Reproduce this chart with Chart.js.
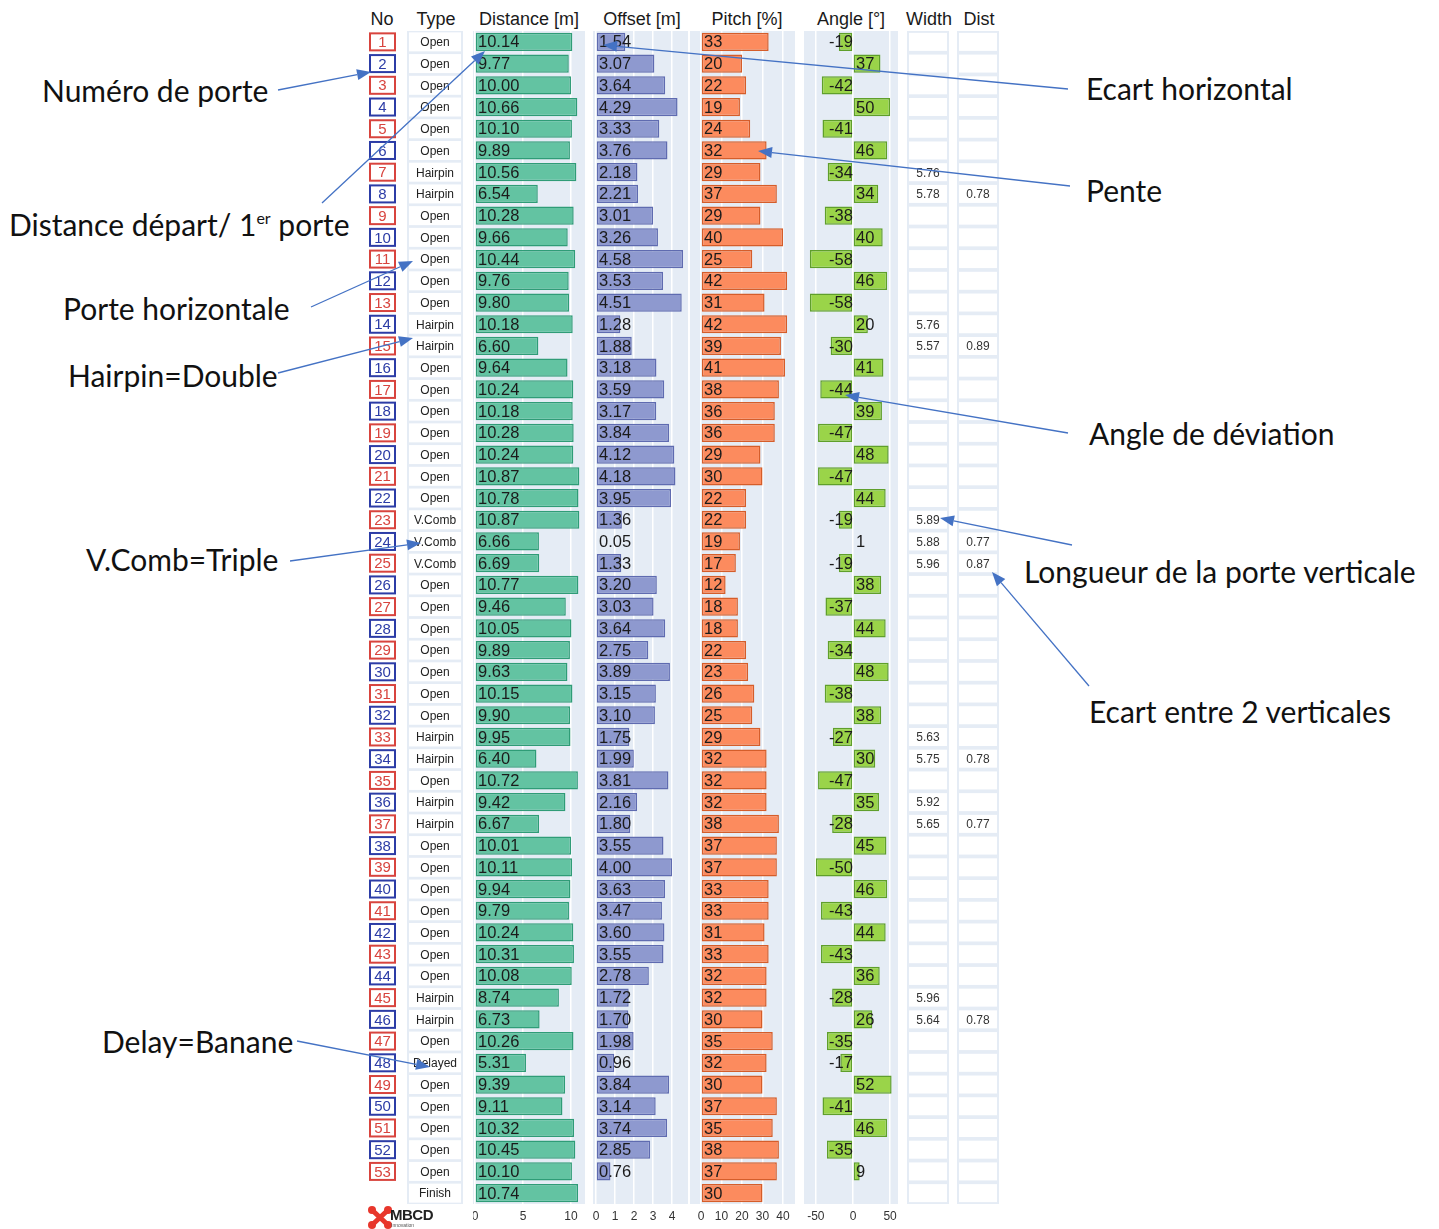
<!DOCTYPE html>
<html>
<head>
<meta charset="utf-8">
<script src="https://cdn.jsdelivr.net/npm/chart.js@4.4.1/dist/chart.umd.min.js"></script>
<style>
body { margin: 0; background: #fff; }
#page { position: relative; width: 1439px; height: 1229px; overflow: hidden; font-family: "Liberation Sans", Arial, sans-serif; }
canvas.col { position: absolute; top: 31px; }
.head { position: absolute; top: 8px; font-size: 18px; line-height: 22px; color: #1a1a1a; transform: translateX(-50%); white-space: nowrap; }
.note { position: absolute; font-family: Lato, sans-serif; font-size: 30px; line-height: 34px; color: #111; white-space: nowrap; transform: translateY(-50%); }
.note sup { font-size: 16px; vertical-align: 12px; line-height: 0; }
#arrows { position: absolute; left: 0; top: 0; pointer-events: none; z-index: 5; }
#logo { position: absolute; left: 368px; top: 1206px; height: 23px; }
</style>
</head>
<body>
<div id="page">
  <div class="head" style="left:382px">No</div>
  <div class="head" style="left:436px">Type</div>
  <div class="head" style="left:529px">Distance [m]</div>
  <div class="head" style="left:642px">Offset [m]</div>
  <div class="head" style="left:747px">Pitch [%]</div>
  <div class="head" style="left:851px">Angle [°]</div>
  <div class="head" style="left:929px">Width</div>
  <div class="head" style="left:979px">Dist</div>

  <canvas class="col" id="leftTable" width="110" height="1198" style="left:360px"></canvas>
  <canvas class="col" id="distanceChart" width="112" height="1198" style="left:473px"></canvas>
  <canvas class="col" id="offsetChart" width="95" height="1198" style="left:593px"></canvas>
  <canvas class="col" id="pitchChart" width="105" height="1198" style="left:690px"></canvas>
  <canvas class="col" id="angleChart" width="94" height="1198" style="left:804px"></canvas>
  <canvas class="col" id="rightTable" width="110" height="1198" style="left:900px"></canvas>

  <div class="note" style="left:42px;top:90px">Numéro de porte</div>
  <div class="note" style="left:9px;top:224px">Distance départ/ 1<sup>er</sup> porte</div>
  <div class="note" style="left:63px;top:308px">Porte horizontale</div>
  <div class="note" style="left:68px;top:375px">Hairpin=Double</div>
  <div class="note" style="left:86px;top:559px">V.Comb=Triple</div>
  <div class="note" style="left:102px;top:1041px">Delay=Banane</div>
  <div class="note" style="left:1086px;top:88px">Ecart horizontal</div>
  <div class="note" style="left:1086px;top:190px">Pente</div>
  <div class="note" style="left:1089px;top:433px">Angle de déviation</div>
  <div class="note" style="left:1024px;top:571px">Longueur de la porte verticale</div>
  <div class="note" style="left:1089px;top:711px">Ecart entre 2 verticales</div>

  <div id="logo">
    <svg width="24" height="23" viewBox="0 0 24 23" style="position:absolute;left:0;top:0">
      <path d="M4 4 L20 19 M20 4 L4 19" stroke="#e8372c" stroke-width="5"/>
      <circle cx="4" cy="4" r="4" fill="#e8372c"/><circle cx="20" cy="4" r="4" fill="#e8372c"/>
      <circle cx="4" cy="19" r="4" fill="#e8372c"/><circle cx="20" cy="19" r="4" fill="#e8372c"/>
    </svg>
    <div style="position:absolute;left:22px;top:0;font:bold 15px 'Liberation Sans';color:#222;letter-spacing:-0.5px">MBCD</div>
    <div style="position:absolute;left:23px;top:16px;font:5px 'Liberation Sans';color:#555">Innovation</div>
  </div>

  <canvas id="arrows" width="1439" height="1229"></canvas>
</div>

<script>
Chart.defaults.font.family = '"Liberation Sans", Arial, sans-serif';

let gates = ['1','2','3','4','5','6','7','8','9','10','11','12','13','14','15','16','17','18','19','20',
  '21','22','23','24','25','26','27','28','29','30','31','32','33','34','35','36','37','38','39','40',
  '41','42','43','44','45','46','47','48','49','50','51','52','53',''];
let types = ['Open','Open','Open','Open','Open','Open','Hairpin','Hairpin','Open','Open',
  'Open','Open','Open','Hairpin','Hairpin','Open','Open','Open','Open','Open',
  'Open','Open','V.Comb','V.Comb','V.Comb','Open','Open','Open','Open','Open',
  'Open','Open','Hairpin','Hairpin','Open','Hairpin','Hairpin','Open','Open','Open',
  'Open','Open','Open','Open','Hairpin','Hairpin','Open','Delayed','Open','Open',
  'Open','Open','Open','Finish'];
let distance = [10.14,9.77,10.00,10.66,10.10,9.89,10.56,6.54,10.28,9.66,
  10.44,9.76,9.80,10.18,6.60,9.64,10.24,10.18,10.28,10.24,
  10.87,10.78,10.87,6.66,6.69,10.77,9.46,10.05,9.89,9.63,
  10.15,9.90,9.95,6.40,10.72,9.42,6.67,10.01,10.11,9.94,
  9.79,10.24,10.31,10.08,8.74,6.73,10.26,5.31,9.39,9.11,
  10.32,10.45,10.10,10.74];
let offset = [1.54,3.07,3.64,4.29,3.33,3.76,2.18,2.21,3.01,3.26,
  4.58,3.53,4.51,1.28,1.88,3.18,3.59,3.17,3.84,4.12,
  4.18,3.95,1.36,0.05,1.33,3.20,3.03,3.64,2.75,3.89,
  3.15,3.10,1.75,1.99,3.81,2.16,1.80,3.55,4.00,3.63,
  3.47,3.60,3.55,2.78,1.72,1.70,1.98,0.96,3.84,3.14,
  3.74,2.85,0.76,null];
let pitch = [33,20,22,19,24,32,29,37,29,40,
  25,42,31,42,39,41,38,36,36,29,
  30,22,22,19,17,12,18,18,22,23,
  26,25,29,32,32,32,38,37,37,33,
  33,31,33,32,32,30,35,32,30,37,
  35,38,37,30];
let angle = [-19,37,-42,50,-41,46,-34,34,-38,40,
  -58,46,-58,20,-30,41,-44,39,-47,48,
  -47,44,-19,1,-19,38,-37,44,-34,48,
  -38,38,-27,30,-47,35,-28,45,-50,46,
  -43,44,-43,36,-28,26,-35,-17,52,-41,
  46,-35,9,null];
let widths = [null,null,null,null,null,null,5.76,5.78,null,null,
  null,null,null,5.76,5.57,null,null,null,null,null,
  null,null,5.89,5.88,5.96,null,null,null,null,null,
  null,null,5.63,5.75,null,5.92,5.65,null,null,null,
  null,null,null,null,5.96,5.64,null,null,null,null,
  null,null,null,null];
let dists = [null,null,null,null,null,null,null,0.78,null,null,
  null,null,null,null,0.89,null,null,null,null,null,
  null,null,null,0.77,0.87,null,null,null,null,null,
  null,null,null,0.78,null,null,0.77,null,null,null,
  null,null,null,null,null,0.78,null,null,null,null,
  null,null,null,null];

let distanceTicks = [0, 5, 10];
let offsetTicks = [0, 1, 2, 3, 4];
let pitchTicks = [0, 10, 20, 30, 40];
let angleTicks = [-50, 0, 50];

let rows = types.map((t, i) => i);
const panelColor = '#e5ecf5';

const panelBg = {
  id: 'panelBg',
  beforeDraw(chart) {
    let a = chart.chartArea, ctx = chart.ctx;
    ctx.save();
    ctx.fillStyle = panelColor;
    ctx.fillRect(a.left, a.top, a.right - a.left, a.bottom - a.top);
    ctx.restore();
  }
};

const valueLabels = {
  id: 'valueLabels',
  afterDatasetsDraw(chart, args, opts) {
    let ctx = chart.ctx;
    let meta = chart.getDatasetMeta(0);
    let zero = chart.scales.x.getPixelForValue(0);
    let data = chart.data.datasets[0].data;
    ctx.save();
    ctx.font = '16.5px "Liberation Sans", Arial, sans-serif';
    ctx.fillStyle = '#1b1b1b';
    ctx.textBaseline = 'middle';
    meta.data.forEach((bar, i) => {
      let v = data[i];
      if (v == null) return;
      let txt = opts.digits ? v.toFixed(opts.digits) : String(v);
      if (v < 0) {
        ctx.textAlign = 'right';
        ctx.fillText(txt, zero, bar.y + 1);
      } else {
        ctx.textAlign = 'left';
        ctx.fillText(txt, zero + 3, bar.y + 1);
      }
    });
    ctx.restore();
  }
};

function barColumn(id, values, ticks, min, max, fill, border, digits) {
  return new Chart(document.getElementById(id), {
    type: 'bar',
    data: {
      labels: rows,
      datasets: [{
        data: values,
        backgroundColor: fill,
        borderColor: border,
        borderWidth: 1.5,
        borderSkipped: false,
        barPercentage: 0.84,
        categoryPercentage: 1
      }]
    },
    options: {
      indexAxis: 'y',
      responsive: false,
      animation: false,
      plugins: {
        legend: { display: false },
        tooltip: { enabled: false },
        valueLabels: { digits: digits }
      },
      scales: {
        y: { display: false, offset: true },
        x: {
          min: min,
          max: max,
          afterBuildTicks: s => { s.ticks = ticks.map(v => ({ value: v })); },
          afterFit: s => { s.height = 25; s.paddingLeft = 0; s.paddingRight = 0; },
          grid: { color: '#ffffff', lineWidth: 1.5, drawTicks: false },
          border: { display: false },
          ticks: { padding: 5, color: '#333', font: { size: 12 } }
        }
      }
    },
    plugins: [panelBg, valueLabels]
  });
}

barColumn('distanceChart', distance, distanceTicks, -0.21, 11.46, '#63c3a2', '#2f9c77', 2);
barColumn('offsetChart', offset, offsetTicks, -0.158, 4.84, '#8e99cf', '#5f6bb0', 2);
barColumn('pitchChart', pitch, pitchTicks, -5.37, 45.85, '#fc8b5e', '#d55d2a', 0);
barColumn('angleChart', angle, angleTicks, -65.9, 60.6, '#9ad449', '#5f9f2b', 0);

// table-like columns drawn on the same row scale
function tableColumn(id, drawRow) {
  return new Chart(document.getElementById(id), {
    type: 'bar',
    data: { labels: rows, datasets: [{ data: rows.map(() => null) }] },
    options: {
      indexAxis: 'y',
      responsive: false,
      animation: false,
      layout: { padding: { bottom: 25 } },
      plugins: { legend: { display: false }, tooltip: { enabled: false } },
      scales: {
        y: { display: false, offset: true },
        x: { display: false }
      }
    },
    plugins: [{
      id: 'cells',
      afterDraw(chart) {
        let ctx = chart.ctx, a = chart.chartArea, y = chart.scales.y;
        ctx.save();
        drawRow(ctx, a, null);
        rows.forEach(i => drawRow(ctx, a, i, y.getPixelForValue(i)));
        ctx.restore();
      }
    }]
  });
}

tableColumn('leftTable', (ctx, a, i, cy) => {
  if (i === null) {
    ctx.fillStyle = panelColor;
    ctx.fillRect(47, a.top, 56, a.bottom - a.top);
    return;
  }
  ctx.fillStyle = '#fff';
  ctx.fillRect(49, cy - 9.5, 52, 19);
  ctx.fillStyle = '#222';
  ctx.font = '12px "Liberation Sans", Arial, sans-serif';
  ctx.textAlign = 'center';
  ctx.textBaseline = 'middle';
  ctx.fillText(types[i], 75, cy + 1);
  if (gates[i]) {
    let c = (i % 2 === 0) ? '#d8443e' : '#2c3ca6';
    ctx.strokeStyle = c;
    ctx.lineWidth = 2;
    ctx.strokeRect(10, cy - 8.5, 25, 17);
    ctx.fillStyle = c;
    ctx.font = '15px "Liberation Sans", Arial, sans-serif';
    ctx.fillText(gates[i], 22.5, cy + 1);
  }
});

tableColumn('rightTable', (ctx, a, i, cy) => {
  if (i === null) {
    ctx.fillStyle = panelColor;
    ctx.fillRect(7, a.top, 42, a.bottom - a.top);
    ctx.fillRect(57, a.top, 42, a.bottom - a.top);
    return;
  }
  ctx.fillStyle = '#fff';
  ctx.fillRect(9, cy - 9, 38, 18);
  ctx.fillRect(59, cy - 9, 38, 18);
  ctx.fillStyle = '#333';
  ctx.font = '12px "Liberation Sans", Arial, sans-serif';
  ctx.textAlign = 'center';
  ctx.textBaseline = 'middle';
  if (widths[i] != null) ctx.fillText(widths[i].toFixed(2), 28, cy + 1);
  if (dists[i] != null) ctx.fillText(dists[i].toFixed(2), 78, cy + 1);
});

// annotation arrows
let arrows = [
  [278, 90, 371, 72],
  [322, 203, 485, 51],
  [311, 307, 413, 261],
  [278, 373, 413, 338],
  [290, 561, 421, 543],
  [297, 1041, 430, 1067],
  [1068, 89, 603, 45],
  [1070, 186, 758, 151],
  [1068, 433, 845, 395],
  [1072, 545, 940, 518],
  [1089, 686, 992, 572]
];
let actx = document.getElementById('arrows').getContext('2d');
actx.strokeStyle = '#4472c4';
actx.fillStyle = '#4472c4';
actx.lineWidth = 1.3;
arrows.forEach(([x1, y1, x2, y2]) => {
  let ang = Math.atan2(y2 - y1, x2 - x1);
  let len = 14, hw = 5.5;
  let bx = x2 - len * Math.cos(ang), by = y2 - len * Math.sin(ang);
  actx.beginPath();
  actx.moveTo(x1, y1);
  actx.lineTo(bx, by);
  actx.stroke();
  actx.beginPath();
  actx.moveTo(x2, y2);
  actx.lineTo(bx + hw * Math.sin(ang), by - hw * Math.cos(ang));
  actx.lineTo(bx - hw * Math.sin(ang), by + hw * Math.cos(ang));
  actx.closePath();
  actx.fill();
});
</script>
</body>
</html>
